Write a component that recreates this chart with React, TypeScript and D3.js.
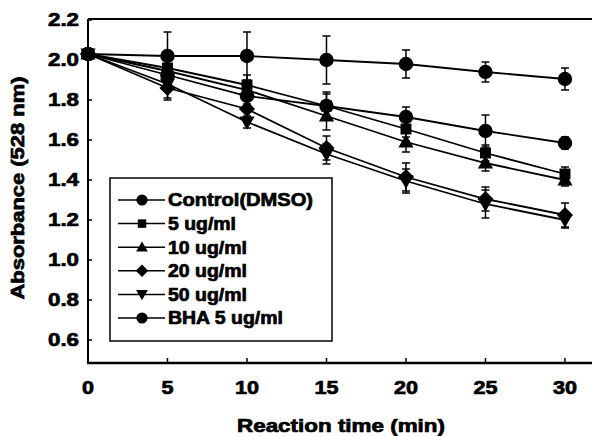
import React from "react";
import * as d3 from "d3";

const times = [0, 5, 10, 15, 20, 25, 30];
const seriesNames = ["Control(DMSO)", "5 ug/ml", "10 ug/ml", "20 ug/ml", "50 ug/ml", "BHA 5 ug/ml"];
const seriesSymbols = ["circle", "square", "triangle", "diamond", "invtriangle", "circle"];
const controlValues = [2.03, 2.02, 2.02, 2.0, 1.98, 1.94, 1.905];
const controlErrors = [0.01, 0.12, 0.12, 0.12, 0.07, 0.05, 0.055];
const ug5Values = [2.03, 1.96, 1.875, 1.77, 1.655, 1.535, 1.43];
const ug5Errors = [0.01, 0.04, 0.05, 0.07, 0.04, 0.04, 0.035];
const ug10Values = [2.03, 1.945, 1.85, 1.72, 1.59, 1.485, 1.40];
const ug10Errors = [0.01, 0.05, 0.04, 0.07, 0.05, 0.04, 0.03];
const ug20Values = [2.03, 1.86, 1.755, 1.56, 1.415, 1.305, 1.225];
const ug20Errors = [0.01, 0.06, 0.04, 0.06, 0.07, 0.06, 0.06];
const ug50Values = [2.03, 1.88, 1.69, 1.53, 1.395, 1.28, 1.2];
const ug50Errors = [0.01, 0.07, 0.03, 0.05, 0.06, 0.07, 0.04];
const bhaValues = [2.03, 1.925, 1.82, 1.77, 1.715, 1.645, 1.585];
const bhaErrors = [0.01, 0.05, 0.04, 0.06, 0.05, 0.08, 0.03];
const xTicks = [0, 5, 10, 15, 20, 25, 30];
const yTicks = [0.6, 0.8, 1.0, 1.2, 1.4, 1.6, 1.8, 2.0, 2.2];

const allValues = [controlValues, ug5Values, ug10Values, ug20Values, ug50Values, bhaValues];
const allErrors = [controlErrors, ug5Errors, ug10Errors, ug20Errors, ug50Errors, bhaErrors];

const W = 592;
const H = 436;
const left = 88;
const right = 592;
const top = 19;
const bottom = 363;

const x = d3.scaleLinear().domain([0, 31.7]).range([left, right]);
const y = d3.scaleLinear().domain([0.485, 2.2]).range([bottom, 20]);

const FONT = "'Liberation Sans', Arial, Helvetica, sans-serif";
const textStroke = { stroke: "#000", strokeWidth: 0.7 };

function symbolPath(kind: string, size: number) {
  const map: Record<string, any> = {
    circle: d3.symbolCircle,
    square: d3.symbolSquare,
    triangle: d3.symbolTriangle,
    diamond: d3.symbolDiamond2,
    invtriangle: d3.symbolTriangle,
  };
  return d3.symbol().type(map[kind]).size(size)() as string;
}

function Marker({ kind, cx, cy, scale }: { kind: string; cx: number; cy: number; scale: number }) {
  const sizes: Record<string, number> = {
    circle: 165,
    square: 120,
    triangle: 100,
    diamond: 165,
    invtriangle: 100,
  };
  const rot = kind === "invtriangle" ? 180 : 0;
  const dy = kind === "triangle" ? 1 : kind === "invtriangle" ? -1 : 0;
  return (
    <path
      d={symbolPath(kind, sizes[kind] * scale)}
      transform={`translate(${cx},${cy + dy}) rotate(${rot})`}
      fill="#000"
    />
  );
}

export default function App() {
  const line = d3
    .line<number>()
    .x((_, i) => x(times[i]))
    .y((d) => y(d));

  const legendX = 110;
  const legendY = 178;
  const rowY = (i: number) => 200 + i * 23.6;

  return (
    <svg width={W} height={H} style={{ display: "block", position: "absolute", left: 0, top: 0 }}>
      <rect x={0} y={0} width={W} height={H} fill="#fff" />
      {/* frame */}
      <line x1={left} x2={right} y1={top} y2={top} stroke="#000" strokeWidth={2} />
      <line x1={left} x2={left} y1={top} y2={bottom} stroke="#000" strokeWidth={2} />
      <line x1={left - 1} x2={right} y1={bottom} y2={bottom} stroke="#000" strokeWidth={2.5} />

      {/* ticks */}
      {yTicks.map((t) => (
        <g key={"y" + t}>
          <line x1={left} x2={left + 4} y1={y(t)} y2={y(t)} stroke="#000" strokeWidth={1.5} />
          <text
            x={79}
            y={y(t)}
            dy="0.36em"
            textAnchor="end"
            fontFamily={FONT}
            fontWeight="bold"
            fontSize={18}
            textLength={31}
            lengthAdjust="spacingAndGlyphs"
            {...textStroke}
          >
            {t.toFixed(1)}
          </text>
        </g>
      ))}
      {xTicks.map((t) => (
        <g key={"x" + t}>
          <line x1={x(t)} x2={x(t)} y1={bottom} y2={bottom - 5} stroke="#000" strokeWidth={1.5} />
          <text
            x={x(t)}
            y={394}
            textAnchor="middle"
            fontFamily={FONT}
            fontWeight="bold"
            fontSize={18}
            textLength={t < 10 ? 12 : 24}
            lengthAdjust="spacingAndGlyphs"
            {...textStroke}
          >
            {t}
          </text>
        </g>
      ))}

      {/* axis titles */}
      <text
        x={341}
        y={432}
        textAnchor="middle"
        fontFamily={FONT}
        fontWeight="bold"
        fontSize={18}
        textLength={208}
        lengthAdjust="spacingAndGlyphs"
        {...textStroke}
      >
        Reaction time (min)
      </text>
      <text
        transform="translate(24,188) rotate(-90)"
        textAnchor="middle"
        fontFamily={FONT}
        fontWeight="bold"
        fontSize={18}
        textLength={223}
        lengthAdjust="spacingAndGlyphs"
        {...textStroke}
      >
        Absorbance (528 nm)
      </text>

      {/* series */}
      {allValues.map((vals, si) => (
        <g key={"s" + si}>
          <path d={line(vals) as string} fill="none" stroke="#000" strokeWidth={1.8} />
          {vals.map((v, i) => {
            const e = allErrors[si][i];
            const cx = x(times[i]);
            return (
              <g key={i}>
                <line x1={cx} x2={cx} y1={y(v + e)} y2={y(v - e)} stroke="#000" strokeWidth={1.5} />
                <line x1={cx - 4} x2={cx + 4} y1={y(v + e)} y2={y(v + e)} stroke="#000" strokeWidth={1.5} />
                <line x1={cx - 4} x2={cx + 4} y1={y(v - e)} y2={y(v - e)} stroke="#000" strokeWidth={1.5} />
              </g>
            );
          })}
          {vals.map((v, i) => (
            <Marker key={"m" + i} kind={seriesSymbols[si]} cx={x(times[i])} cy={y(v)} scale={1} />
          ))}
        </g>
      ))}

      {/* legend */}
      <rect x={legendX} y={legendY} width={222} height={163} fill="#fff" stroke="#000" strokeWidth={1.5} />
      {seriesNames.map((name, i) => (
        <g key={"l" + i}>
          <line x1={118} x2={165} y1={rowY(i)} y2={rowY(i)} stroke="#000" strokeWidth={1.5} />
          <Marker kind={seriesSymbols[i]} cx={142} cy={rowY(i)} scale={0.6} />
          <text
            x={168}
            y={rowY(i)}
            dy="0.36em"
            fontFamily={FONT}
            fontWeight="bold"
            fontSize={18}
            textLength={[145, 68, 79, 79, 79, 115][i]}
            lengthAdjust="spacingAndGlyphs"
            {...textStroke}
          >
            {name}
          </text>
        </g>
      ))}
    </svg>
  );
}
